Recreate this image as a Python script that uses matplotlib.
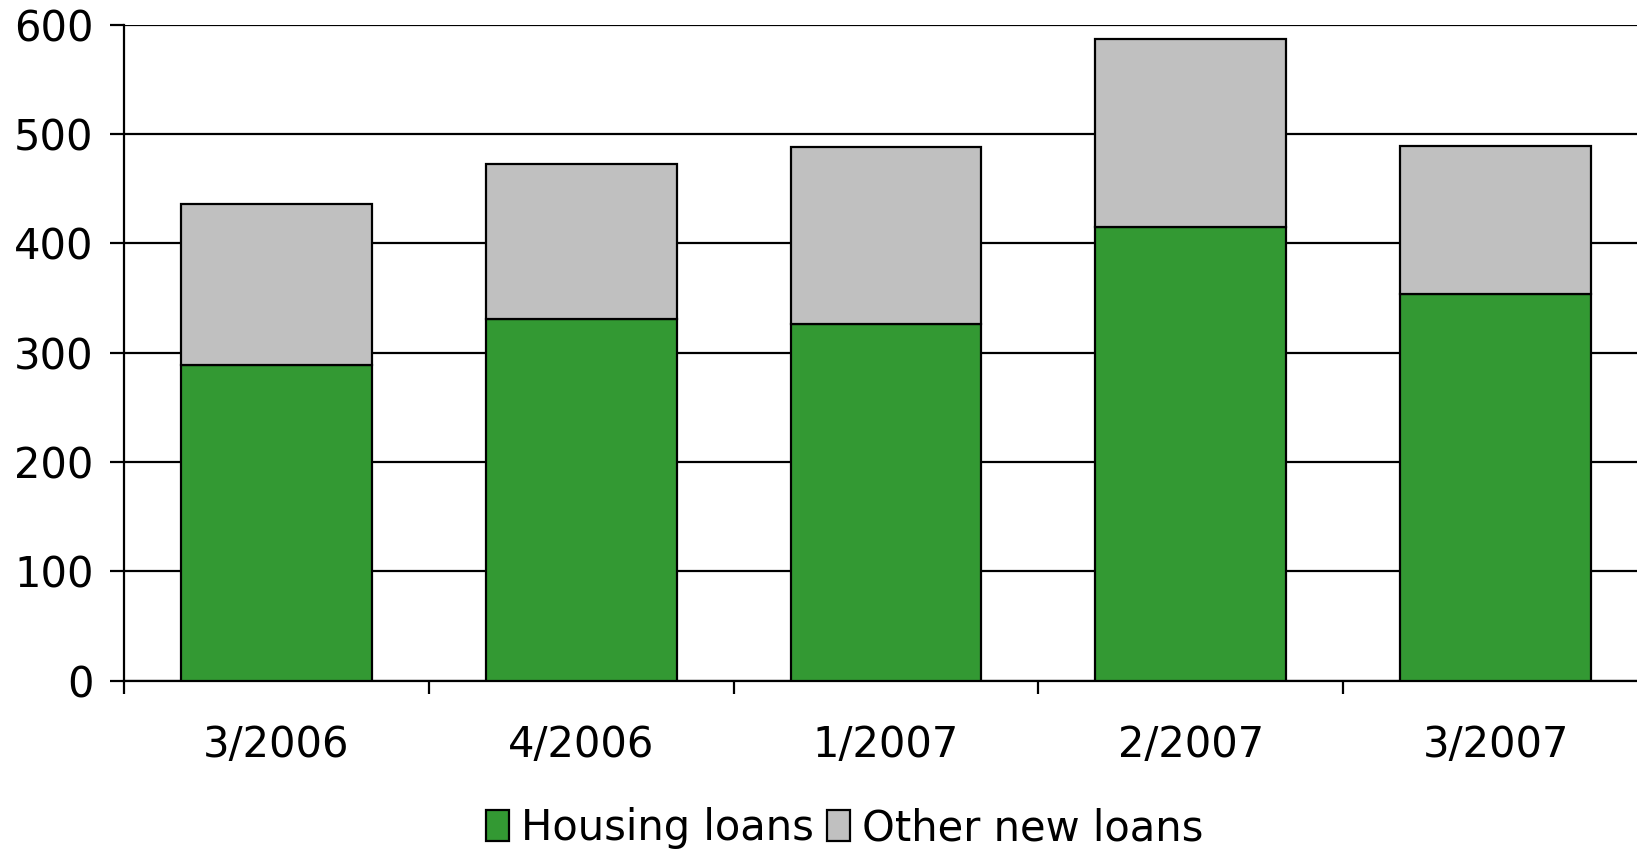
import matplotlib
matplotlib.use("Agg")
import matplotlib.pyplot as plt
import numpy as np

categories = ["3/2006", "4/2006", "1/2007", "2/2007", "3/2007"]
housing = [289, 331, 326, 415, 354]
other_total = [436, 473, 488, 587, 489]
other = [t - h for t, h in zip(other_total, housing)]
yticks = [0, 100, 200, 300, 400, 500, 600]

GREEN = "#339933"
GRAY = "#C0C0C0"

plt.rcParams["font.family"] = ["DejaVu Sans"]

W, H = 1637, 852
fig = plt.figure(figsize=(W / 100, H / 100), dpi=100)
left, right = 124, 1648
y0, ytop = 680.5, 24.7
ax = fig.add_axes([left / W, (H - y0) / H, (right - left) / W, (y0 - ytop) / H])

x = np.arange(len(categories))
ax.bar(x, housing, width=0.626, color=GREEN, edgecolor="black", linewidth=1.6,
       label="Housing loans", zorder=3)
ax.bar(x, other, width=0.626, bottom=housing, color=GRAY, edgecolor="black",
       linewidth=1.6, label="Other new loans", zorder=3)

ax.set_xlim(-0.5, len(categories) - 0.5)
ax.set_ylim(0, 600)
ax.set_yticks(yticks)
ax.set_yticklabels([str(v) for v in yticks])
ax.yaxis.grid(True, color="black", linewidth=1.6, zorder=0)
ax.set_axisbelow(True)

ax.set_xticks(x)
ax.set_xticklabels(categories)
ax.set_xticks(np.arange(len(categories) + 1) - 0.5, minor=True)
ax.tick_params(axis="x", which="major", length=0, pad=31, labelsize=30)
ax.tick_params(axis="x", which="minor", length=9, width=1.6, direction="out")
ax.tick_params(axis="y", which="major", length=10, width=1.6, pad=12, labelsize=30)

for s in ["top", "right"]:
    ax.spines[s].set_visible(False)
ax.spines["left"].set_linewidth(1.6)
ax.spines["bottom"].set_linewidth(1.6)

fig.legend(loc="center", bbox_to_anchor=(0.516, 0.028), ncol=2, frameon=False,
           fontsize=30, handlelength=0.55, handleheight=0.75, handletextpad=0.3,
           columnspacing=0.3, borderaxespad=0)

fig.savefig("out.png", dpi=100)
